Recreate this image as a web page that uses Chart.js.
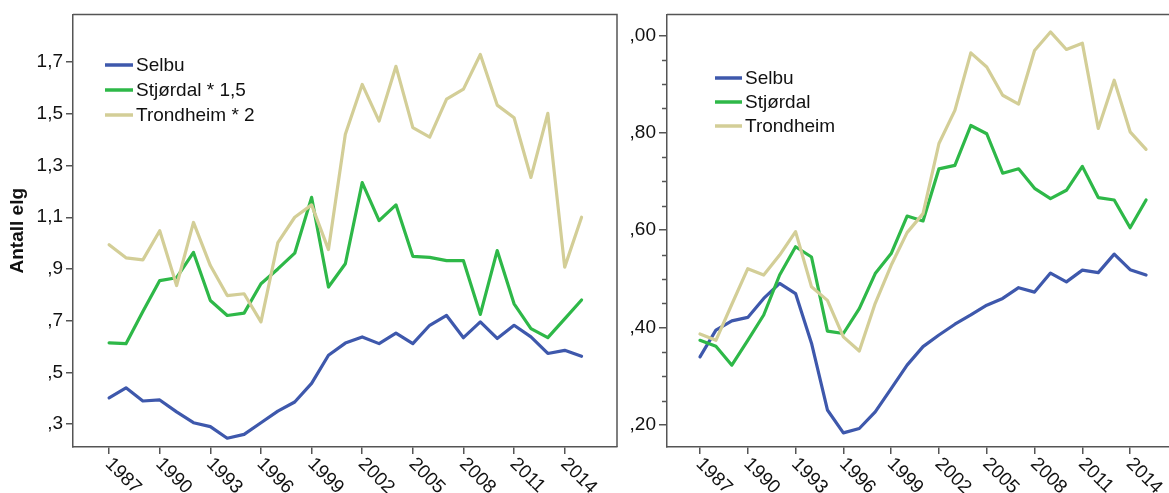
<!DOCTYPE html>
<html>
<head>
<meta charset="utf-8">
<script src="https://cdn.jsdelivr.net/npm/chart.js@4"></script>
<style>
html,body{margin:0;padding:0;background:#fff;overflow:hidden;}
#wrap{position:relative;width:1169px;height:493px;overflow:hidden;}
#left{position:absolute;left:0;top:0;width:640px;height:493px;}
#right{position:absolute;left:620px;top:0;width:580px;height:493px;}
</style>
</head>
<body>
<div id="wrap">
  <div id="left"><canvas id="c1"></canvas></div>
  <div id="right"><canvas id="c2"></canvas></div>
</div>
<script>
// years on the x axis
const years = [1987,1988,1989,1990,1991,1992,1993,1994,1995,1996,1997,1998,1999,2000,
  2001,2002,2003,2004,2005,2006,2007,2008,2009,2010,2011,2012,2013,2014,2015];
const xTicks = [1987,1990,1993,1996,1999,2002,2005,2008,2011,2014];

// left panel (scaled)
const leftLabels = ['Selbu','Stjørdal * 1,5','Trondheim * 2'];
const selbuL = [0.401,0.44,0.389,0.393,0.347,0.305,0.29,0.245,0.26,0.305,0.35,0.385,0.457,0.566,
  0.613,0.637,0.611,0.652,0.611,0.682,0.72,0.634,0.695,0.631,0.682,0.637,0.573,0.585,0.562];
const stjL = [0.614,0.611,0.735,0.855,0.866,0.964,0.778,0.72,0.729,0.843,0.9,0.961,1.177,0.83,
  0.92,1.234,1.087,1.148,0.949,0.945,0.932,0.932,0.724,0.971,0.765,0.669,0.634,0.707,0.78];
const tronL = [0.994,0.943,0.935,1.048,0.836,1.08,0.913,0.797,0.804,0.695,1.002,1.10,1.148,0.975,
  1.421,1.614,1.472,1.684,1.447,1.41,1.557,1.596,1.73,1.534,1.485,1.254,1.502,0.907,1.10];
const leftYTicks = [0.3,0.5,0.7,0.9,1.1,1.3,1.5,1.7];
const leftYTickLabels = [',3',',5',',7',',9','1,1','1,3','1,5','1,7'];

// right panel (raw)
const rightLabels = ['Selbu','Stjørdal','Trondheim'];
const selbuR = [0.34,0.395,0.414,0.421,0.46,0.491,0.47,0.368,0.231,0.184,0.193,0.227,0.275,0.323,
  0.361,0.385,0.407,0.426,0.446,0.46,0.482,0.473,0.512,0.494,0.518,0.513,0.551,0.519,0.508];
const stjR = [0.374,0.362,0.323,0.374,0.426,0.508,0.566,0.545,0.393,0.388,0.439,0.511,0.552,0.629,
  0.619,0.726,0.733,0.815,0.798,0.717,0.726,0.686,0.665,0.682,0.731,0.667,0.662,0.605,0.662];
const tronR = [0.387,0.374,0.448,0.521,0.508,0.549,0.597,0.484,0.456,0.381,0.352,0.45,0.528,0.595,
  0.634,0.778,0.846,0.964,0.935,0.877,0.859,0.969,1.007,0.971,0.984,0.809,0.908,0.802,0.766];
const rightYTicks = [0.2,0.4,0.6,0.8,1.0];
const rightYTickLabels = [',20',',40',',60',',80',',00'];
const rightYMinor = [0.25,0.3,0.35,0.45,0.5,0.55,0.65,0.7,0.75,0.85,0.9,0.95];

const colors = ['#3e58ac','#2eb848','#d3ce97'];
const axisColor = '#555';
const FONT = '"Liberation Sans", Arial, sans-serif';
Chart.defaults.font.family = FONT;
Chart.defaults.color = '#111';

// frame, minor ticks, rotated year labels and legend
const panelDecor = {
  id:'panelDecor',
  afterDraw(chart, args, opts){
    const {ctx, chartArea:a, scales:{x,y}} = chart;
    ctx.save();
    ctx.strokeStyle = axisColor; ctx.lineWidth = 1.5;
    ctx.beginPath();
    ctx.moveTo(a.left, a.top); ctx.lineTo(a.right, a.top); ctx.lineTo(a.right, a.bottom);
    ctx.stroke();
    (opts.minor || []).forEach(v=>{
      const py = Math.round(y.getPixelForValue(v)) + 0.5;
      ctx.beginPath(); ctx.moveTo(a.left-5, py); ctx.lineTo(a.left, py); ctx.stroke();
    });
    ctx.fillStyle = '#111';
    ctx.font = '19px ' + FONT;
    ctx.textAlign = 'left'; ctx.textBaseline = 'middle';
    x.ticks.forEach(t=>{
      const px = x.getPixelForValue(t.value);
      ctx.save();
      ctx.translate(px-1, a.bottom+14);
      ctx.rotate(Math.PI/4);
      ctx.fillText(String(t.value), 0, 0);
      ctx.restore();
    });
    // datasets are stored last-first so Trondheim draws on top; legend goes first-last
    const L = opts.legend;
    chart.data.datasets.slice().reverse().forEach((d,i)=>{
      const ly = L.y + i*L.gap;
      ctx.strokeStyle = d.borderColor; ctx.lineWidth = 3.5;
      ctx.beginPath(); ctx.moveTo(L.x, ly); ctx.lineTo(L.x+L.len, ly); ctx.stroke();
      ctx.fillStyle = '#111';
      ctx.fillText(d.label, L.x+L.len+3, ly+1);
    });
    ctx.restore();
  }
};

function makeChart(id, labels, series, cfg){
  return new Chart(document.getElementById(id), {
    type:'line',
    data:{
      datasets: series.map((vals,k)=>({
        label: labels[k],
        data: years.map((yr,i)=>({x:yr, y:vals[i]})),
        borderColor: colors[k], borderWidth:3.2, pointRadius:0, tension:0, fill:false,
        borderJoinStyle:'round', borderCapStyle:'round'
      })).reverse()
    },
    options:{
      responsive:true, maintainAspectRatio:false, animation:false,
      layout:{padding:{top:cfg.top, right:cfg.right, left:0, bottom:0}},
      plugins:{
        legend:{display:false}, tooltip:{enabled:false},
        panelDecor:{legend:cfg.legend, minor:cfg.minor}
      },
      scales:{
        x:{
          type:'linear', min:cfg.xMin, max:cfg.xMax,
          afterBuildTicks: s=>{ s.ticks = xTicks.map(v=>({value:v})); },
          afterFit: s=>{ s.height = 46; },
          ticks:{display:false},
          grid:{drawOnChartArea:false, drawTicks:true, tickLength:7, color:axisColor, lineWidth:1.5},
          border:{display:true, color:axisColor, width:1.5}
        },
        y:{
          type:'linear', min:cfg.yMin, max:cfg.yMax,
          afterBuildTicks: s=>{ s.ticks = cfg.yTicks.map(v=>({value:v})); },
          afterFit: s=>{ s.width = cfg.yWidth; },
          title: cfg.yTitle ? {display:true, text:cfg.yTitle, font:{size:19, weight:'bold'}, color:'#111', padding:{top:6,bottom:0}} : {display:false},
          ticks:{
            callback:(v,i)=>cfg.yTickLabels[i],
            font:{size:19}, color:'#111', padding:3
          },
          grid:{drawOnChartArea:false, drawTicks:true, tickLength:cfg.yTickLen, color:axisColor, lineWidth:1.5},
          border:{display:true, color:axisColor, width:1.5}
        }
      }
    },
    plugins:[panelDecor]
  });
}

const c1 = makeChart('c1', leftLabels, [selbuL, stjL, tronL], {
  top:13, right:23, yWidth:73, yTickLen:7,
  xMin:1984.86, xMax:2017.1, yMin:0.211, yMax:1.885,
  yTicks:leftYTicks, yTickLabels:leftYTickLabels, yTitle:'Antall elg',
  legend:{x:105, y:65, gap:25, len:28}
});
const c2 = makeChart('c2', rightLabels, [selbuR, stjR, tronR], {
  top:14, right:20, yWidth:47, yTickLen:8,
  xMin:1984.93, xMax:2017.13, yMin:0.155, yMax:1.043,
  yTicks:rightYTicks, yTickLabels:rightYTickLabels, minor:rightYMinor,
  legend:{x:95, y:78, gap:24, len:27}
});
</script>
</body>
</html>
